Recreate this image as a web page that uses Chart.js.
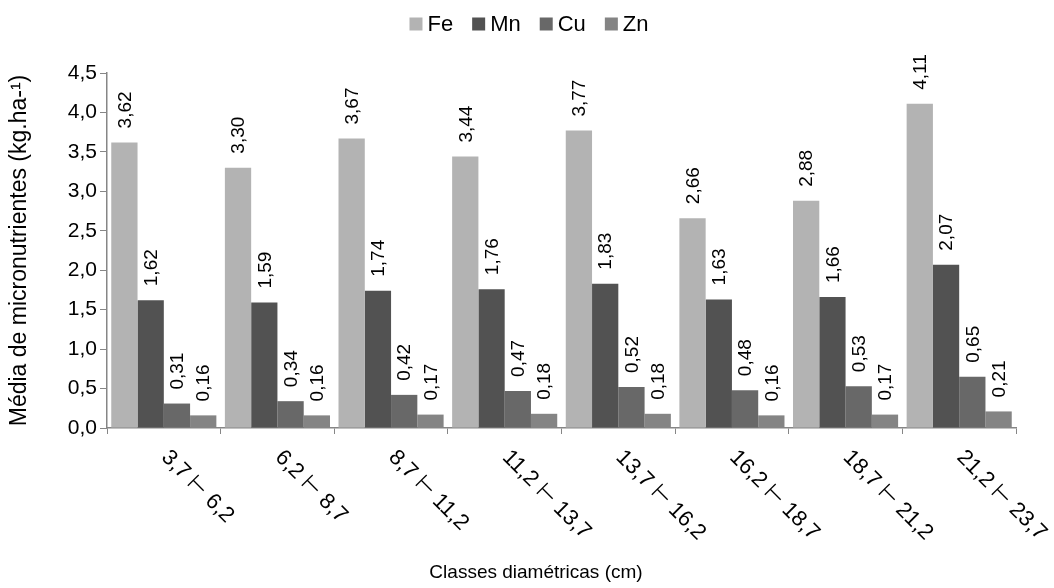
<!DOCTYPE html>
<html>
<head>
<meta charset="utf-8">
<script src="https://cdn.jsdelivr.net/npm/chart.js@4/dist/chart.umd.min.js"></script>
<style>
    html, body { margin: 0; padding: 0; background: #fff; }
    #wrap { width: 1054px; height: 588px; }
</style>
</head>
<body>
<div id="wrap"><canvas id="microChart" width="1054" height="588"></canvas></div>
<script>
// Diameter classes (cm)
const classes = ['3,7 ⊢ 6,2', '6,2 ⊢ 8,7', '8,7 ⊢ 11,2', '11,2 ⊢ 13,7',
    '13,7 ⊢ 16,2', '16,2 ⊢ 18,7', '18,7 ⊢ 21,2', '21,2 ⊢ 23,7'];

// Mean micronutrient content (kg.ha-1)
const fe = [3.62, 3.30, 3.67, 3.44, 3.77, 2.66, 2.88, 4.11];
const mn = [1.62, 1.59, 1.74, 1.76, 1.83, 1.63, 1.66, 2.07];
const cu = [0.31, 0.34, 0.42, 0.47, 0.52, 0.48, 0.53, 0.65];
const zn = [0.16, 0.16, 0.17, 0.18, 0.18, 0.16, 0.17, 0.21];

const yTicks = [0, 0.5, 1, 1.5, 2, 2.5, 3, 3.5, 4, 4.5];

const FONT = '"Liberation Sans", Arial, sans-serif';
const AXIS_COLOR = '#868686';

const fmt = v => v.toFixed(2).replace('.', ',');

// Vertical value labels above each bar
const valueLabels = {
    id: 'valueLabels',
    afterDatasetsDraw(chart) {
        const ctx = chart.ctx;
        ctx.save();
        ctx.font = '19px ' + FONT;
        ctx.fillStyle = '#000';
        ctx.textAlign = 'left';
        ctx.textBaseline = 'middle';
        chart.data.datasets.forEach((ds, i) => {
            chart.getDatasetMeta(i).data.forEach((bar, j) => {
                ctx.save();
                ctx.translate(bar.x + 1, bar.y - 14);
                ctx.rotate(-Math.PI / 2);
                ctx.fillText(fmt(ds.data[j]), 0, 0);
                ctx.restore();
            });
        });
        ctx.restore();
    }
};

// Slanted category labels and x axis title
const xLabels = {
    id: 'xLabels',
    afterDraw(chart) {
        const ctx = chart.ctx;
        const xs = chart.scales.x;
        const bottom = chart.chartArea.bottom;
        ctx.save();
        ctx.font = '22px ' + FONT;
        ctx.fillStyle = '#000';
        ctx.textAlign = 'left';
        ctx.textBaseline = 'middle';
        classes.forEach((c, i) => {
            const x = xs.getPixelForValue(i);
            ctx.save();
            ctx.translate(x + 1, bottom + 26);
            ctx.rotate(Math.PI / 4);
            ctx.fillText(c, 0, 0);
            ctx.restore();
        });
        ctx.font = '19px ' + FONT;
        ctx.textAlign = 'center';
        ctx.fillText('Classes diamétricas (cm)', 536, 573);
        ctx.restore();
    }
};

// Legend row: square swatch + series name, centred over the plot
const legendRow = {
    id: 'legendRow',
    afterDraw(chart) {
        const ctx = chart.ctx;
        const box = 13, gap = 5, spacing = 19, cy = 24;
        ctx.save();
        ctx.font = '22px ' + FONT;
        ctx.textAlign = 'left';
        ctx.textBaseline = 'middle';
        const items = chart.data.datasets.map(ds => ({
            label: ds.label,
            color: ds.backgroundColor,
            w: box + gap + ctx.measureText(ds.label).width
        }));
        const total = items.reduce((a, it) => a + it.w, 0) + spacing * (items.length - 1);
        let x = 529 - total / 2;
        items.forEach(it => {
            ctx.fillStyle = it.color;
            ctx.fillRect(x, cy - box / 2, box, box);
            ctx.fillStyle = '#000';
            ctx.fillText(it.label, x + box + gap, cy + 1);
            x += it.w + spacing;
        });
        ctx.restore();
    }
};

function initializeMicroChart() {
    const ctx = document.getElementById('microChart');
    if (!ctx) return;

    new Chart(ctx, {
        type: 'bar',
        data: {
            labels: classes,
            datasets: [
                { label: 'Fe', data: fe, backgroundColor: '#b3b3b3' },
                { label: 'Mn', data: mn, backgroundColor: '#525252' },
                { label: 'Cu', data: cu, backgroundColor: '#686868' },
                { label: 'Zn', data: zn, backgroundColor: '#848484' }
            ]
        },
        options: {
            responsive: false,
            animation: false,
            devicePixelRatio: 1,
            layout: { padding: { left: 0, right: 38, top: 73, bottom: 0 } },
            datasets: {
                bar: { barPercentage: 1, categoryPercentage: 0.925 }
            },
            plugins: {
                legend: { display: false },
                tooltip: { enabled: false }
            },
            scales: {
                x: {
                    offset: true,
                    grid: {
                        display: true,
                        offset: true,
                        drawOnChartArea: false,
                        color: AXIS_COLOR,
                        tickLength: 6
                    },
                    border: { color: AXIS_COLOR, width: 1.5 },
                    ticks: { display: false },
                    afterFit: s => { s.height = 160; }
                },
                y: {
                    min: 0,
                    max: 4.5,
                    afterBuildTicks: s => { s.ticks = yTicks.map(v => ({ value: v })); },
                    grid: {
                        display: true,
                        drawOnChartArea: false,
                        color: AXIS_COLOR,
                        tickLength: 7
                    },
                    border: { color: AXIS_COLOR, width: 1.5 },
                    ticks: {
                        font: { family: FONT, size: 21 },
                        color: '#000',
                        padding: 3,
                        callback: v => v.toFixed(1).replace('.', ',')
                    },
                    title: {
                        display: true,
                        text: 'Média de micronutrientes (kg.ha-¹)',
                        font: { family: FONT, size: 23 },
                        color: '#000',
                        padding: { top: 6, bottom: 0 }
                    },
                    afterFit: s => { s.width = 107; }
                }
            }
        },
        plugins: [valueLabels, xLabels, legendRow]
    });
}

initializeMicroChart();
</script>
</body>
</html>
